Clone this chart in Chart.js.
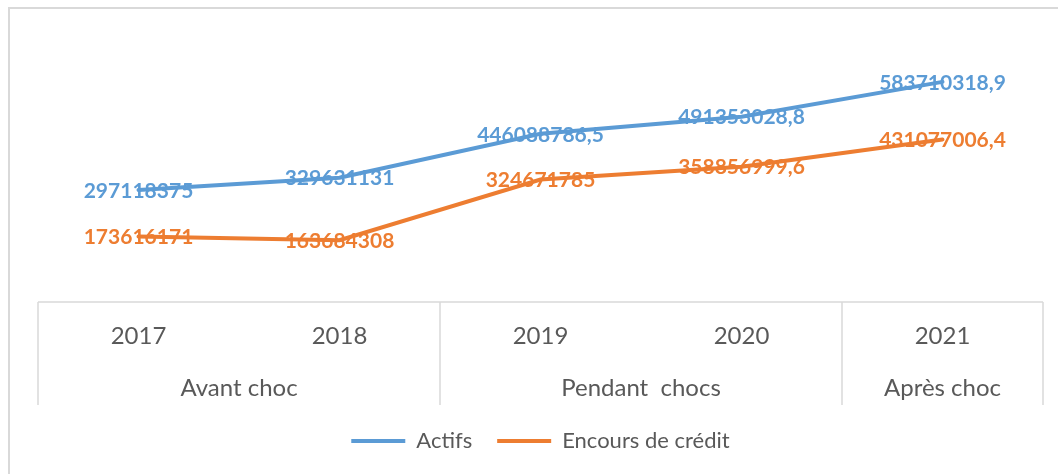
<!DOCTYPE html>
<html>
<head>
<meta charset="utf-8">
<script src="https://cdn.jsdelivr.net/npm/chart.js@4.4.1/dist/chart.umd.min.js"></script>
<style>
html,body{margin:0;padding:0;background:#fff;}
#wrap{position:relative;width:1058px;height:474px;overflow:hidden;}
canvas{display:block;}
</style>
</head>
<body>
<div id="wrap"><canvas id="c" width="1058" height="474"></canvas></div>
<script>
const years = ['2017', '2018', '2019', '2020', '2021'];
const groups = ['Avant choc', 'Pendant  chocs', 'Après choc'];
const groupSpans = [2, 2, 1];
const actifs = [297118375, 329631131, 446088786.5, 491353028.8, 583710318.9];
const encours = [173616171, 163684308, 324671785, 358856999.6, 431077006.4];
const seriesNames = ['Actifs', 'Encours de crédit'];
const yMin = 0;
const yMax = 700000000;

const BLUE = '#5B9BD5';
const ORANGE = '#ED7D31';
const TEXT = '#595959';
const GRID = '#D9D9D9';
const FONT = 'Lato, "Open Sans", sans-serif';

function fmt(v) { return String(v).replace('.', ','); }

const framePlugin = {
  id: 'frame',
  beforeDraw(chart) {
    const ctx = chart.ctx;
    ctx.save();
    ctx.strokeStyle = GRID;
    ctx.lineWidth = 2;
    ctx.strokeRect(9, 8, 1200, 600);
    ctx.restore();
  }
};

const labelPlugin = {
  id: 'valueLabels',
  afterDatasetsDraw(chart) {
    const ctx = chart.ctx;
    ctx.save();
    ctx.font = 'bold 21px ' + FONT;
    ctx.textAlign = 'center';
    ctx.textBaseline = 'middle';
    chart.data.datasets.forEach((ds, i) => {
      const meta = chart.getDatasetMeta(i);
      meta.data.forEach((pt, j) => {
        ctx.fillStyle = ds.borderColor;
        ctx.fillText(fmt(ds.data[j]), pt.x, pt.y + 1);
      });
    });
    ctx.restore();
  }
};

const axisPlugin = {
  id: 'multiAxis',
  afterDraw(chart) {
    const ctx = chart.ctx;
    const xs = chart.scales.x;
    const top = chart.chartArea.bottom;
    const bottom = xs.bottom;
    const n = years.length;
    const band = (xs.getPixelForValue(1) - xs.getPixelForValue(0));
    const edge = k => xs.getPixelForValue(0) - band / 2 + k * band;
    ctx.save();
    ctx.strokeStyle = GRID;
    ctx.lineWidth = 1.5;
    ctx.beginPath();
    ctx.moveTo(edge(0), top);
    ctx.lineTo(edge(n), top);
    let k = 0;
    const bounds = [0];
    groupSpans.forEach(s => { k += s; bounds.push(k); });
    bounds.forEach(b => {
      ctx.moveTo(edge(b), top);
      ctx.lineTo(edge(b), bottom);
    });
    ctx.stroke();
    ctx.fillStyle = TEXT;
    ctx.textAlign = 'center';
    ctx.textBaseline = 'middle';
    ctx.font = '24px ' + FONT;
    years.forEach((y, i) => {
      ctx.fillText(y, xs.getPixelForValue(i), top + 34);
    });
    groups.forEach((g, i) => {
      const cx = (edge(bounds[i]) + edge(bounds[i + 1])) / 2;
      ctx.fillText(g, cx, top + 86);
    });
    ctx.restore();
  }
};

new Chart(document.getElementById('c'), {
  type: 'line',
  data: {
    labels: years,
    datasets: [
      { label: seriesNames[0], data: actifs, borderColor: BLUE, backgroundColor: BLUE,
        borderWidth: 4, pointRadius: 0, tension: 0, borderCapStyle: 'round' },
      { label: seriesNames[1], data: encours, borderColor: ORANGE, backgroundColor: ORANGE,
        borderWidth: 4, pointRadius: 0, tension: 0, borderCapStyle: 'round' }
    ]
  },
  options: {
    responsive: false,
    animation: false,
    devicePixelRatio: 1,
    layout: { padding: { top: 38, left: 38, right: 15, bottom: 12 } },
    scales: {
      x: {
        offset: true,
        grid: { display: false },
        border: { display: false },
        ticks: { display: false },
        afterFit: s => { s.height = 103; }
      },
      y: { display: false, min: yMin, max: yMax }
    },
    plugins: {
      tooltip: { enabled: false },
      legend: {
        position: 'bottom',
        labels: {
          usePointStyle: true,
          pointStyle: 'line',
          pointStyleWidth: 54,
          padding: 25,
          color: TEXT,
          font: { family: FONT, size: 22 }
        }
      }
    }
  },
  plugins: [framePlugin, labelPlugin, axisPlugin]
});
</script>
</body>
</html>
